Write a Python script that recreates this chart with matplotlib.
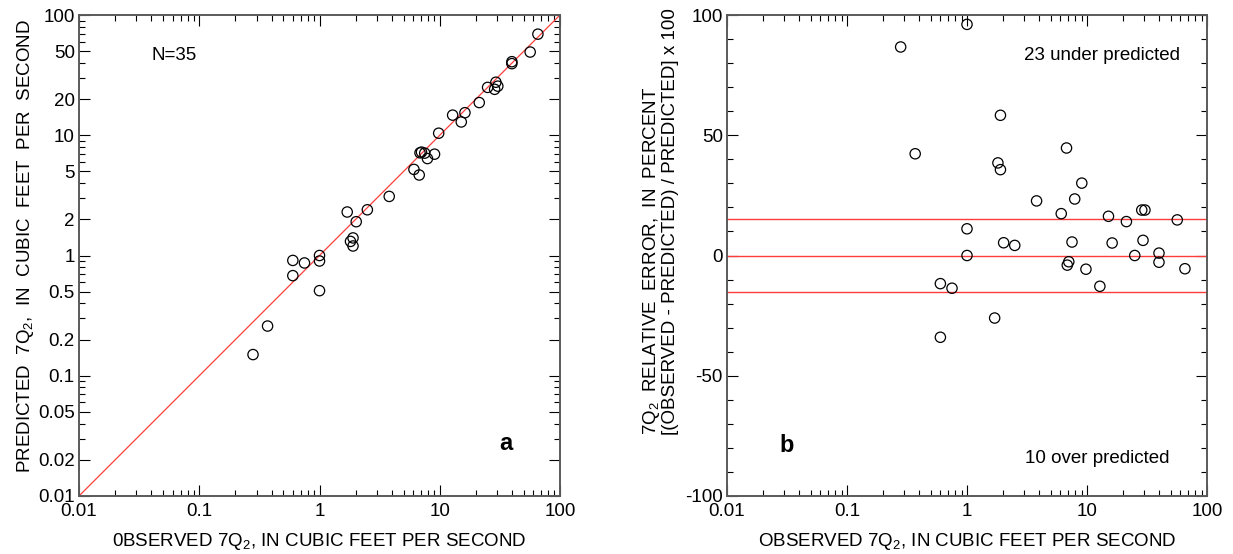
import numpy as np
import matplotlib
matplotlib.use("Agg")
import matplotlib.pyplot as plt
from matplotlib.ticker import FixedLocator, FuncFormatter, MultipleLocator, NullFormatter

plt.rcParams['font.family'] = ['Liberation Sans', 'DejaVu Sans']
plt.rcParams['mathtext.fontset'] = 'custom'
plt.rcParams['mathtext.rm'] = 'Liberation Sans'
plt.rcParams['mathtext.it'] = 'Liberation Sans:italic'
plt.rcParams['mathtext.bf'] = 'Liberation Sans:bold'

# 7Q2 low-flow sites: observed vs regression-predicted (cfs), and relative error (%)
observed = [0.28, 0.37, 0.60, 0.60, 0.75, 1.0, 1.0, 1.0, 1.81, 1.90, 1.90, 1.70,
            2.02, 2.50, 3.80, 6.10, 6.75, 7.05, 6.85, 7.50, 7.90, 9.05, 9.80,
            12.8, 15.1, 16.2, 21.3, 25.0, 28.6, 30.4, 29.3, 39.8, 39.8, 56.5, 65.5]
predicted = [0.150, 0.259, 0.68, 0.91, 0.867, 1.0, 0.90, 0.51, 1.31, 1.40, 1.20, 2.30,
             1.91, 2.40, 3.10, 5.20, 4.67, 7.24, 7.14, 7.10, 6.40, 6.96, 10.4,
             14.7, 12.9, 15.4, 18.7, 25.0, 24.1, 25.6, 27.6, 39.4, 40.9, 49.2, 69.3]
rel_error = [86.7, 42.3, -11.7, -34.0, -13.6, 0.0, 11.1, 96.1, 38.5, 35.7, 58.3, -26.0,
             5.3, 4.2, 22.7, 17.4, 44.7, -2.6, -4.0, 5.6, 23.5, 30.1, -5.7,
             -12.8, 16.3, 5.2, 14.1, 0.0, 18.9, 18.9, 6.3, 1.0, -2.8, 14.8, -5.5]

one_to_one = [0.01, 100]
error_band = [15, 0, -15]
log_major = [0.01, 0.1, 1, 10, 100]
log_major_125 = [0.01, 0.02, 0.05, 0.1, 0.2, 0.5, 1, 2, 5, 10, 20, 50, 100]
log_minor = [m * d for d in [0.01, 0.1, 1, 10] for m in range(2, 10)]
log_minor_y = [m * d for d in [0.01, 0.1, 1, 10] for m in (3, 4, 6, 7, 8, 9)]

FS = 13.5
RED = '#ff3c3c'
SPINE = '#5a5a5a'


def plain(v, pos):
    return f'{v:g}'


def style(ax):
    for s in ax.spines.values():
        s.set_color(SPINE)
        s.set_linewidth(1.4)
    ax.tick_params(which='both', direction='in', top=True, right=True,
                   labelsize=FS, width=0.8, color='black', pad=3)
    ax.tick_params(axis='x', which='both', pad=5)
    ax.tick_params(which='major', length=8)
    ax.tick_params(which='minor', length=4)


fig = plt.figure(figsize=(12.33, 5.54), dpi=100)
ax1 = fig.add_axes([79 / 1233, 1 - 496 / 554, 481 / 1233, 481 / 554])
ax2 = fig.add_axes([727 / 1233, 1 - 496 / 554, 480 / 1233, 481 / 554])

# (a) predicted vs observed
ax1.set_xscale('log')
ax1.set_yscale('log')
ax1.plot(one_to_one, one_to_one, color=RED, lw=0.9, zorder=2)
ax1.scatter(observed, predicted, s=55, facecolors='none', edgecolors='black',
            linewidths=0.9, zorder=3)
ax1.set_xlim(0.01, 100)
ax1.set_ylim(0.01, 100)
ax1.xaxis.set_major_locator(FixedLocator(log_major))
ax1.xaxis.set_minor_locator(FixedLocator(log_minor))
ax1.yaxis.set_major_locator(FixedLocator(log_major_125))
ax1.yaxis.set_minor_locator(FixedLocator(log_minor_y))
ax1.xaxis.set_major_formatter(FuncFormatter(plain))
ax1.yaxis.set_major_formatter(FuncFormatter(plain))
ax1.xaxis.set_minor_formatter(NullFormatter())
ax1.yaxis.set_minor_formatter(NullFormatter())
style(ax1)
ax1.set_xlabel('0BSERVED 7Q$_\\mathregular{2}$, IN CUBIC FEET PER SECOND', fontsize=FS, va='center')
ax1.xaxis.set_label_coords(0.5, -0.094)
ax1.set_ylabel('PREDICTED  7Q$_\\mathregular{2}$,  IN  CUBIC  FEET  PER  SECOND', fontsize=FS, va='center')
ax1.yaxis.set_label_coords(-0.112, 0.52)
ax1.text(0.197, 0.915, 'N=35', transform=ax1.transAxes, ha='center', va='center', fontsize=FS)
ax1.text(0.888, 0.110, 'a', transform=ax1.transAxes, ha='center', va='center',
         fontsize=17, fontweight='bold')

# (b) relative error vs observed
ax2.set_xscale('log')
for yv in error_band:
    ax2.axhline(yv, color=RED, lw=1.0, zorder=2)
ax2.scatter(observed, rel_error, s=55, facecolors='none', edgecolors='black',
            linewidths=0.9, zorder=3)
ax2.set_xlim(0.01, 100)
ax2.set_ylim(-100, 100)
ax2.xaxis.set_major_locator(FixedLocator(log_major))
ax2.xaxis.set_minor_locator(FixedLocator(log_minor))
ax2.xaxis.set_major_formatter(FuncFormatter(plain))
ax2.xaxis.set_minor_formatter(NullFormatter())
ax2.yaxis.set_major_locator(MultipleLocator(50))
ax2.yaxis.set_minor_locator(MultipleLocator(10))
ax2.yaxis.set_major_formatter(FuncFormatter(lambda v, p: f'{v:.0f}'))
style(ax2)
ax2.set_xlabel('OBSERVED 7Q$_\\mathregular{2}$, IN CUBIC FEET PER SECOND', fontsize=FS, va='center')
ax2.xaxis.set_label_coords(0.5, -0.094)
ax2.set_ylabel('7Q$_\\mathregular{2}$  RELATIVE  ERROR,  IN  PERCENT\n'
               '[(OBSERVED - PREDICTED) / PREDICTED] x 100',
               fontsize=FS, va='center', multialignment='left', linespacing=1.0)
ax2.yaxis.set_label_coords(-0.14, 0.57)
ax2.text(0.781, 0.915, '23 under predicted', transform=ax2.transAxes,
         ha='center', va='center', fontsize=FS)
ax2.text(0.771, 0.077, '10 over predicted', transform=ax2.transAxes,
         ha='center', va='center', fontsize=FS)
ax2.text(0.125, 0.106, 'b', transform=ax2.transAxes, ha='center', va='center',
         fontsize=17, fontweight='bold')

fig.savefig('out.png', dpi=100)
